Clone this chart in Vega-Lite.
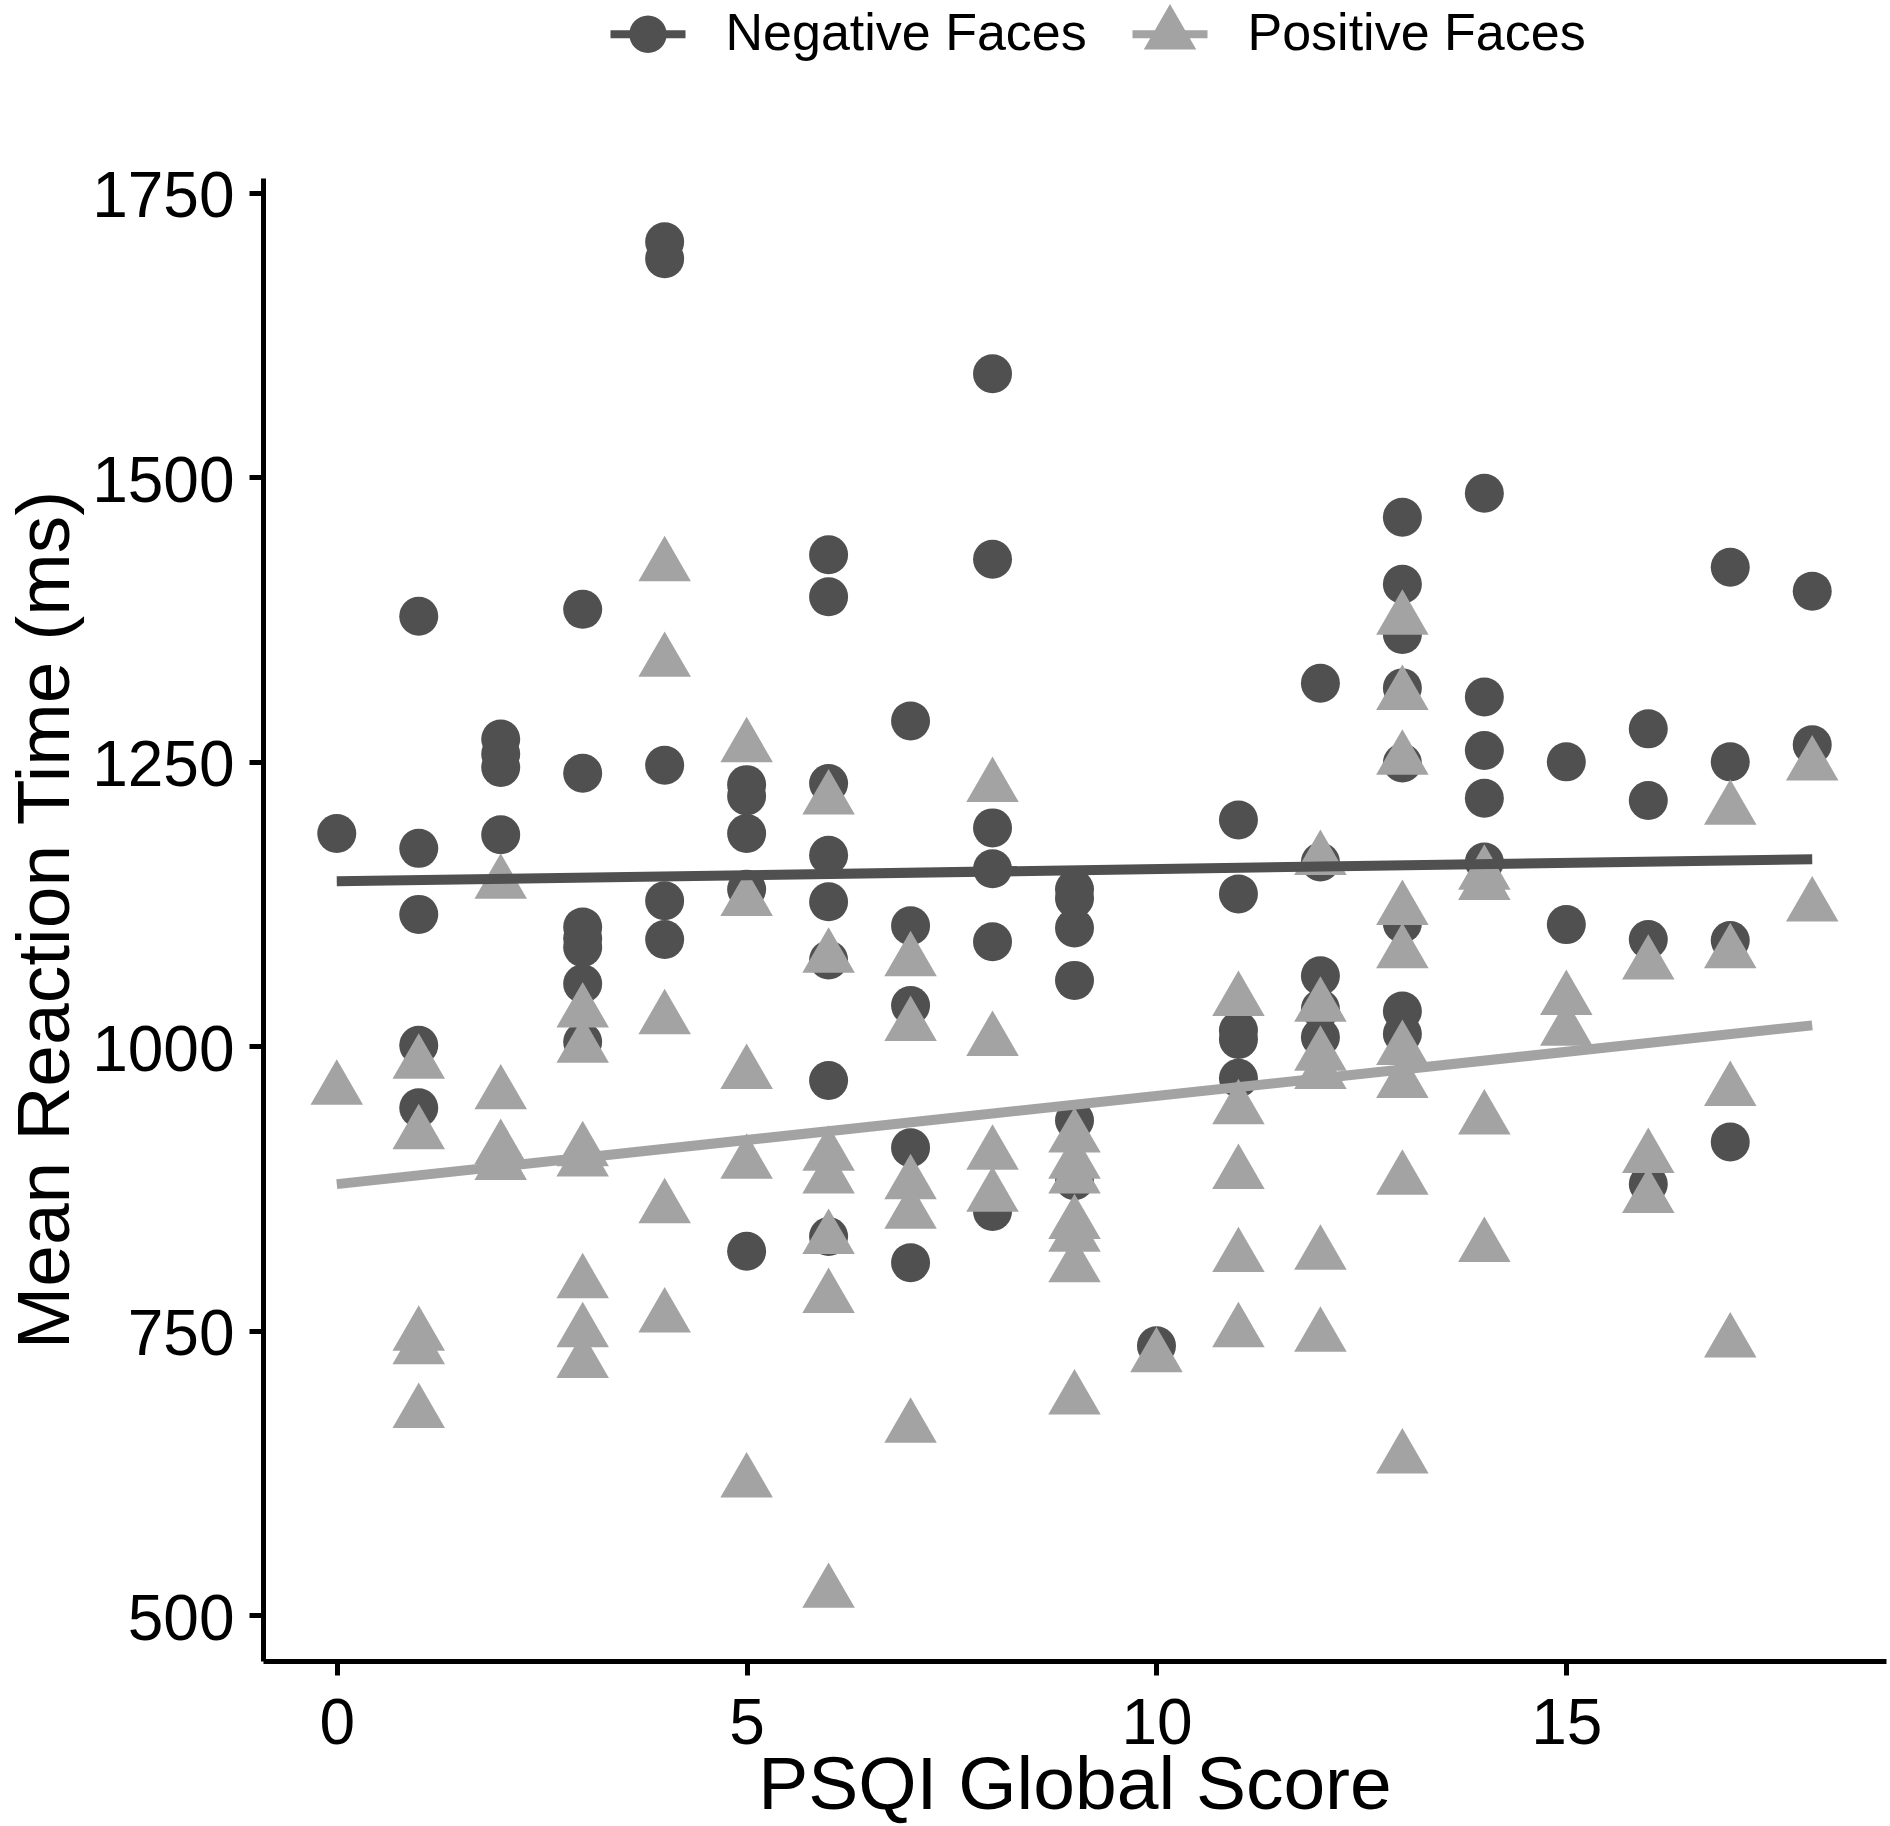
{
  "$schema": "https://vega.github.io/schema/vega-lite/v6.json",
  "width": 1623,
  "height": 1483,
  "autosize": {"type": "none"},
  "padding": {"left": 263, "top": 178, "right": 4, "bottom": 165},
  "background": "white",
  "config": {"view": {"stroke": null}, "font": "Liberation Sans"},
  "datasets": {
    "pts": [
      {"psqi": 0, "rt": 1187, "faces": "Negative Faces"},
      {"psqi": 1, "rt": 1378, "faces": "Negative Faces"},
      {"psqi": 1, "rt": 1174, "faces": "Negative Faces"},
      {"psqi": 1, "rt": 1116, "faces": "Negative Faces"},
      {"psqi": 1, "rt": 1001, "faces": "Negative Faces"},
      {"psqi": 1, "rt": 946, "faces": "Negative Faces"},
      {"psqi": 2, "rt": 1270, "faces": "Negative Faces"},
      {"psqi": 2, "rt": 1257, "faces": "Negative Faces"},
      {"psqi": 2, "rt": 1245, "faces": "Negative Faces"},
      {"psqi": 2, "rt": 1186, "faces": "Negative Faces"},
      {"psqi": 3, "rt": 1384, "faces": "Negative Faces"},
      {"psqi": 3, "rt": 1240, "faces": "Negative Faces"},
      {"psqi": 3, "rt": 1105, "faces": "Negative Faces"},
      {"psqi": 3, "rt": 1095, "faces": "Negative Faces"},
      {"psqi": 3, "rt": 1087, "faces": "Negative Faces"},
      {"psqi": 3, "rt": 1055, "faces": "Negative Faces"},
      {"psqi": 3, "rt": 1004, "faces": "Negative Faces"},
      {"psqi": 4, "rt": 1707, "faces": "Negative Faces"},
      {"psqi": 4, "rt": 1692, "faces": "Negative Faces"},
      {"psqi": 4, "rt": 1247, "faces": "Negative Faces"},
      {"psqi": 4, "rt": 1128, "faces": "Negative Faces"},
      {"psqi": 4, "rt": 1094, "faces": "Negative Faces"},
      {"psqi": 5, "rt": 1230, "faces": "Negative Faces"},
      {"psqi": 5, "rt": 1220, "faces": "Negative Faces"},
      {"psqi": 5, "rt": 1187, "faces": "Negative Faces"},
      {"psqi": 5, "rt": 1138, "faces": "Negative Faces"},
      {"psqi": 5, "rt": 820, "faces": "Negative Faces"},
      {"psqi": 6, "rt": 1432, "faces": "Negative Faces"},
      {"psqi": 6, "rt": 1395, "faces": "Negative Faces"},
      {"psqi": 6, "rt": 1231, "faces": "Negative Faces"},
      {"psqi": 6, "rt": 1168, "faces": "Negative Faces"},
      {"psqi": 6, "rt": 1127, "faces": "Negative Faces"},
      {"psqi": 6, "rt": 1076, "faces": "Negative Faces"},
      {"psqi": 6, "rt": 970, "faces": "Negative Faces"},
      {"psqi": 6, "rt": 833, "faces": "Negative Faces"},
      {"psqi": 7, "rt": 1286, "faces": "Negative Faces"},
      {"psqi": 7, "rt": 1106, "faces": "Negative Faces"},
      {"psqi": 7, "rt": 1036, "faces": "Negative Faces"},
      {"psqi": 7, "rt": 911, "faces": "Negative Faces"},
      {"psqi": 7, "rt": 810, "faces": "Negative Faces"},
      {"psqi": 8, "rt": 1591, "faces": "Negative Faces"},
      {"psqi": 8, "rt": 1428, "faces": "Negative Faces"},
      {"psqi": 8, "rt": 1192, "faces": "Negative Faces"},
      {"psqi": 8, "rt": 1156, "faces": "Negative Faces"},
      {"psqi": 8, "rt": 1092, "faces": "Negative Faces"},
      {"psqi": 8, "rt": 855, "faces": "Negative Faces"},
      {"psqi": 9, "rt": 1138, "faces": "Negative Faces"},
      {"psqi": 9, "rt": 1130, "faces": "Negative Faces"},
      {"psqi": 9, "rt": 1104, "faces": "Negative Faces"},
      {"psqi": 9, "rt": 1058, "faces": "Negative Faces"},
      {"psqi": 9, "rt": 935, "faces": "Negative Faces"},
      {"psqi": 9, "rt": 882, "faces": "Negative Faces"},
      {"psqi": 10, "rt": 737, "faces": "Negative Faces"},
      {"psqi": 11, "rt": 1199, "faces": "Negative Faces"},
      {"psqi": 11, "rt": 1134, "faces": "Negative Faces"},
      {"psqi": 11, "rt": 1014, "faces": "Negative Faces"},
      {"psqi": 11, "rt": 1006, "faces": "Negative Faces"},
      {"psqi": 11, "rt": 972, "faces": "Negative Faces"},
      {"psqi": 12, "rt": 1319, "faces": "Negative Faces"},
      {"psqi": 12, "rt": 1162, "faces": "Negative Faces"},
      {"psqi": 12, "rt": 1062, "faces": "Negative Faces"},
      {"psqi": 12, "rt": 1033, "faces": "Negative Faces"},
      {"psqi": 12, "rt": 1008, "faces": "Negative Faces"},
      {"psqi": 13, "rt": 1465, "faces": "Negative Faces"},
      {"psqi": 13, "rt": 1406, "faces": "Negative Faces"},
      {"psqi": 13, "rt": 1362, "faces": "Negative Faces"},
      {"psqi": 13, "rt": 1315, "faces": "Negative Faces"},
      {"psqi": 13, "rt": 1249, "faces": "Negative Faces"},
      {"psqi": 13, "rt": 1108, "faces": "Negative Faces"},
      {"psqi": 13, "rt": 1031, "faces": "Negative Faces"},
      {"psqi": 13, "rt": 1011, "faces": "Negative Faces"},
      {"psqi": 14, "rt": 1486, "faces": "Negative Faces"},
      {"psqi": 14, "rt": 1307, "faces": "Negative Faces"},
      {"psqi": 14, "rt": 1260, "faces": "Negative Faces"},
      {"psqi": 14, "rt": 1218, "faces": "Negative Faces"},
      {"psqi": 14, "rt": 1162, "faces": "Negative Faces"},
      {"psqi": 15, "rt": 1250, "faces": "Negative Faces"},
      {"psqi": 15, "rt": 1107, "faces": "Negative Faces"},
      {"psqi": 16, "rt": 1279, "faces": "Negative Faces"},
      {"psqi": 16, "rt": 1216, "faces": "Negative Faces"},
      {"psqi": 16, "rt": 1094, "faces": "Negative Faces"},
      {"psqi": 16, "rt": 879, "faces": "Negative Faces"},
      {"psqi": 17, "rt": 1421, "faces": "Negative Faces"},
      {"psqi": 17, "rt": 1250, "faces": "Negative Faces"},
      {"psqi": 17, "rt": 1093, "faces": "Negative Faces"},
      {"psqi": 17, "rt": 916, "faces": "Negative Faces"},
      {"psqi": 18, "rt": 1400, "faces": "Negative Faces"},
      {"psqi": 18, "rt": 1265, "faces": "Negative Faces"},
      {"psqi": 0, "rt": 962, "faces": "Positive Faces"},
      {"psqi": 1, "rt": 985, "faces": "Positive Faces"},
      {"psqi": 1, "rt": 923, "faces": "Positive Faces"},
      {"psqi": 1, "rt": 746, "faces": "Positive Faces"},
      {"psqi": 1, "rt": 734, "faces": "Positive Faces"},
      {"psqi": 1, "rt": 678, "faces": "Positive Faces"},
      {"psqi": 2, "rt": 1143, "faces": "Positive Faces"},
      {"psqi": 2, "rt": 958, "faces": "Positive Faces"},
      {"psqi": 2, "rt": 910, "faces": "Positive Faces"},
      {"psqi": 2, "rt": 896, "faces": "Positive Faces"},
      {"psqi": 3, "rt": 1030, "faces": "Positive Faces"},
      {"psqi": 3, "rt": 999, "faces": "Positive Faces"},
      {"psqi": 3, "rt": 908, "faces": "Positive Faces"},
      {"psqi": 3, "rt": 899, "faces": "Positive Faces"},
      {"psqi": 3, "rt": 792, "faces": "Positive Faces"},
      {"psqi": 3, "rt": 749, "faces": "Positive Faces"},
      {"psqi": 3, "rt": 722, "faces": "Positive Faces"},
      {"psqi": 4, "rt": 1422, "faces": "Positive Faces"},
      {"psqi": 4, "rt": 1338, "faces": "Positive Faces"},
      {"psqi": 4, "rt": 1024, "faces": "Positive Faces"},
      {"psqi": 4, "rt": 858, "faces": "Positive Faces"},
      {"psqi": 4, "rt": 762, "faces": "Positive Faces"},
      {"psqi": 5, "rt": 1263, "faces": "Positive Faces"},
      {"psqi": 5, "rt": 1128, "faces": "Positive Faces"},
      {"psqi": 5, "rt": 976, "faces": "Positive Faces"},
      {"psqi": 5, "rt": 897, "faces": "Positive Faces"},
      {"psqi": 5, "rt": 617, "faces": "Positive Faces"},
      {"psqi": 6, "rt": 1217, "faces": "Positive Faces"},
      {"psqi": 6, "rt": 1078, "faces": "Positive Faces"},
      {"psqi": 6, "rt": 904, "faces": "Positive Faces"},
      {"psqi": 6, "rt": 884, "faces": "Positive Faces"},
      {"psqi": 6, "rt": 831, "faces": "Positive Faces"},
      {"psqi": 6, "rt": 779, "faces": "Positive Faces"},
      {"psqi": 6, "rt": 520, "faces": "Positive Faces"},
      {"psqi": 7, "rt": 1075, "faces": "Positive Faces"},
      {"psqi": 7, "rt": 1018, "faces": "Positive Faces"},
      {"psqi": 7, "rt": 879, "faces": "Positive Faces"},
      {"psqi": 7, "rt": 853, "faces": "Positive Faces"},
      {"psqi": 7, "rt": 665, "faces": "Positive Faces"},
      {"psqi": 8, "rt": 1228, "faces": "Positive Faces"},
      {"psqi": 8, "rt": 1005, "faces": "Positive Faces"},
      {"psqi": 8, "rt": 905, "faces": "Positive Faces"},
      {"psqi": 8, "rt": 868, "faces": "Positive Faces"},
      {"psqi": 9, "rt": 920, "faces": "Positive Faces"},
      {"psqi": 9, "rt": 897, "faces": "Positive Faces"},
      {"psqi": 9, "rt": 884, "faces": "Positive Faces"},
      {"psqi": 9, "rt": 844, "faces": "Positive Faces"},
      {"psqi": 9, "rt": 833, "faces": "Positive Faces"},
      {"psqi": 9, "rt": 806, "faces": "Positive Faces"},
      {"psqi": 9, "rt": 690, "faces": "Positive Faces"},
      {"psqi": 10, "rt": 727, "faces": "Positive Faces"},
      {"psqi": 11, "rt": 1040, "faces": "Positive Faces"},
      {"psqi": 11, "rt": 945, "faces": "Positive Faces"},
      {"psqi": 11, "rt": 888, "faces": "Positive Faces"},
      {"psqi": 11, "rt": 815, "faces": "Positive Faces"},
      {"psqi": 11, "rt": 749, "faces": "Positive Faces"},
      {"psqi": 12, "rt": 1164, "faces": "Positive Faces"},
      {"psqi": 12, "rt": 1035, "faces": "Positive Faces"},
      {"psqi": 12, "rt": 992, "faces": "Positive Faces"},
      {"psqi": 12, "rt": 976, "faces": "Positive Faces"},
      {"psqi": 12, "rt": 817, "faces": "Positive Faces"},
      {"psqi": 12, "rt": 745, "faces": "Positive Faces"},
      {"psqi": 13, "rt": 1375, "faces": "Positive Faces"},
      {"psqi": 13, "rt": 1309, "faces": "Positive Faces"},
      {"psqi": 13, "rt": 1252, "faces": "Positive Faces"},
      {"psqi": 13, "rt": 1120, "faces": "Positive Faces"},
      {"psqi": 13, "rt": 1082, "faces": "Positive Faces"},
      {"psqi": 13, "rt": 997, "faces": "Positive Faces"},
      {"psqi": 13, "rt": 968, "faces": "Positive Faces"},
      {"psqi": 13, "rt": 883, "faces": "Positive Faces"},
      {"psqi": 13, "rt": 638, "faces": "Positive Faces"},
      {"psqi": 14, "rt": 1151, "faces": "Positive Faces"},
      {"psqi": 14, "rt": 1142, "faces": "Positive Faces"},
      {"psqi": 14, "rt": 936, "faces": "Positive Faces"},
      {"psqi": 14, "rt": 824, "faces": "Positive Faces"},
      {"psqi": 15, "rt": 1041, "faces": "Positive Faces"},
      {"psqi": 15, "rt": 1014, "faces": "Positive Faces"},
      {"psqi": 16, "rt": 1072, "faces": "Positive Faces"},
      {"psqi": 16, "rt": 902, "faces": "Positive Faces"},
      {"psqi": 16, "rt": 867, "faces": "Positive Faces"},
      {"psqi": 17, "rt": 1208, "faces": "Positive Faces"},
      {"psqi": 17, "rt": 1082, "faces": "Positive Faces"},
      {"psqi": 17, "rt": 961, "faces": "Positive Faces"},
      {"psqi": 17, "rt": 740, "faces": "Positive Faces"},
      {"psqi": 18, "rt": 1247, "faces": "Positive Faces"},
      {"psqi": 18, "rt": 1123, "faces": "Positive Faces"}
    ],
    "fit": [
      {"psqi": 0, "rt": 1145, "faces": "Negative Faces"},
      {"psqi": 18, "rt": 1164.5, "faces": "Negative Faces"},
      {"psqi": 0, "rt": 879, "faces": "Positive Faces"},
      {"psqi": 18, "rt": 1018.5, "faces": "Positive Faces"}
    ]
  },
  "layer": [
    {
      "data": {"name": "pts"},
      "mark": {"type": "point", "filled": true, "opacity": 1, "size": 1521, "strokeWidth": 0},
      "encoding": {
        "x": {
          "field": "psqi", "type": "quantitative",
          "scale": {"domain": [-0.9, 18.9], "nice": false, "zero": false},
          "axis": {
            "title": "PSQI Global Score", "values": [0, 5, 10, 15], "format": "d", "grid": false,
            "domainColor": "black", "domainWidth": 5,
            "tickColor": "black", "tickWidth": 5, "tickSize": 14,
            "labelFont": "Liberation Sans", "labelFontSize": 64, "labelColor": "black",
            "labelPadding": 17, "labelFlush": false, "labelOverlap": false,
            "titleFont": "Liberation Sans", "titleFontSize": 75, "titleFontWeight": "normal",
            "titleColor": "black", "titleBaseline": "alphabetic", "titleY": 147, "titleX": 811.5, "titleAlign": "center"
          }
        },
        "y": {
          "field": "rt", "type": "quantitative",
          "scale": {"domain": [460, 1763], "nice": false, "zero": false},
          "axis": {
            "title": "Mean Reaction Time (ms)", "values": [500, 750, 1000, 1250, 1500, 1750], "format": "d", "grid": false,
            "domainColor": "black", "domainWidth": 5,
            "tickColor": "black", "tickWidth": 5, "tickSize": 14,
            "labelFont": "Liberation Sans", "labelFontSize": 64, "labelColor": "black",
            "labelPadding": 15, "labelOffset": 5, "labelFlush": false, "labelOverlap": false, "labelLimit": 400,
            "titleFont": "Liberation Sans", "titleFontSize": 75, "titleFontWeight": "normal",
            "titleColor": "black", "titleBaseline": "alphabetic", "titleAngle": -90,
            "titleX": -195, "titleY": 741.5, "titleAlign": "center"
          }
        },
        "color": {
          "field": "faces", "type": "nominal",
          "scale": {"domain": ["Negative Faces", "Positive Faces"], "range": ["#505050", "#a3a3a3"]},
          "legend": {
            "orient": "none", "legendX": 347.5, "legendY": -181.5, "direction": "horizontal",
            "title": null, "padding": 0,
            "labelFont": "Liberation Sans", "labelFontSize": 52, "labelColor": "black", "labelLimit": 600,
            "symbolSize": 5625, "symbolStrokeWidth": 0, "labelOffset": 40, "columnPadding": 45,
            "symbolType": {"expr": "datum.value === 'Negative Faces' ? 'M-1,-0.107H1V0.107H-1Z M0.5,0A0.5,0.5 0 1,1 -0.5,0A0.5,0.5 0 1,1 0.5,0Z M0,-0.808L0,-0.808Z' : 'M-1,-0.107H1V0.107H-1Z M0,-0.808L0.7,0.405L-0.7,0.405Z M0,0.5L0,0.5Z'"}
          }
        },
        "shape": {
          "field": "faces", "type": "nominal",
          "scale": {"domain": ["Positive Faces", "Negative Faces"], "range": ["M0,-1.5551L1.3468,0.7776L-1.3468,0.7776Z", "circle"]},
          "legend": null
        }
      }
    },
    {
      "data": {"name": "fit"},
      "mark": {"type": "line", "strokeWidth": 10, "strokeCap": "butt"},
      "encoding": {
        "x": {"field": "psqi", "type": "quantitative"},
        "y": {"field": "rt", "type": "quantitative"},
        "color": {"field": "faces", "type": "nominal", "legend": null}
      }
    }
  ]
}
